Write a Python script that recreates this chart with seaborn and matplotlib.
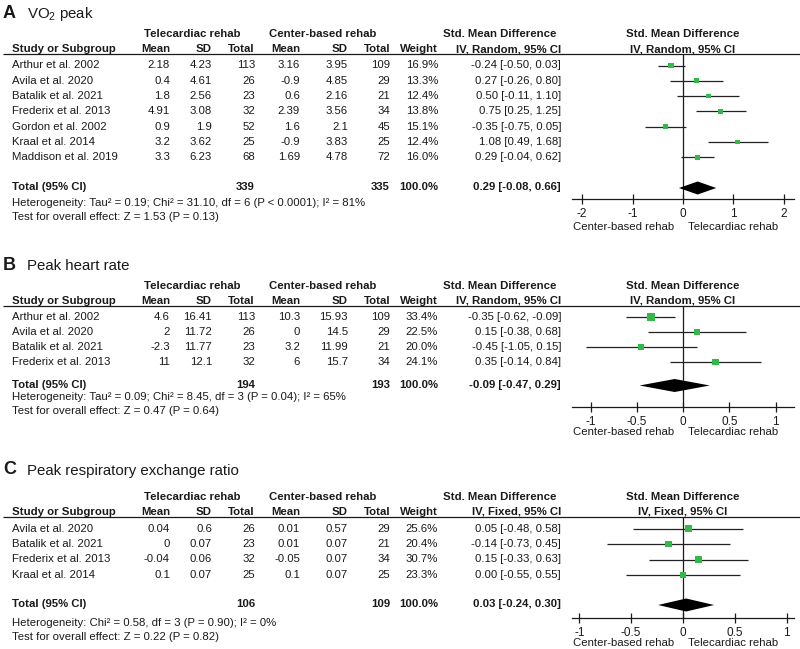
import matplotlib
matplotlib.use("Agg")
import matplotlib.pyplot as plt
import seaborn as sns
import numpy as np

# Panel A: VO2 peak
a_studies = ["Arthur et al. 2002", "Avila et al. 2020", "Batalik et al. 2021", "Frederix et al. 2013",
             "Gordon et al. 2002", "Kraal et al. 2014", "Maddison et al. 2019"]
a_tele_mean = [2.18, 0.4, 1.8, 4.91, 0.9, 3.2, 3.3]
a_tele_sd = [4.23, 4.61, 2.56, 3.08, 1.9, 3.62, 6.23]
a_tele_n = [113, 26, 23, 32, 52, 25, 68]
a_cent_mean = [3.16, -0.9, 0.6, 2.39, 1.6, -0.9, 1.69]
a_cent_sd = [3.95, 4.85, 2.16, 3.56, 2.1, 3.83, 4.78]
a_cent_n = [109, 29, 21, 34, 45, 25, 72]
a_weight = [16.9, 13.3, 12.4, 13.8, 15.1, 12.4, 16.0]
a_smd = [-0.24, 0.27, 0.50, 0.75, -0.35, 1.08, 0.29]
a_lo = [-0.50, -0.26, -0.11, 0.25, -0.75, 0.49, -0.04]
a_hi = [0.03, 0.80, 1.10, 1.25, 0.05, 1.68, 0.62]
a_totals = [339, 335]
a_pooled = [0.29, -0.08, 0.66]
a_het = "Heterogeneity: Tau² = 0.19; Chi² = 31.10, df = 6 (P < 0.0001); I² = 81%"
a_test = "Test for overall effect: Z = 1.53 (P = 0.13)"
a_ticks = [-2, -1, 0, 1, 2]

# Panel B: Peak heart rate
b_studies = ["Arthur et al. 2002", "Avila et al. 2020", "Batalik et al. 2021", "Frederix et al. 2013"]
b_tele_mean = [4.6, 2, -2.3, 11]
b_tele_sd = [16.41, 11.72, 11.77, 12.1]
b_tele_n = [113, 26, 23, 32]
b_cent_mean = [10.3, 0, 3.2, 6]
b_cent_sd = [15.93, 14.5, 11.99, 15.7]
b_cent_n = [109, 29, 21, 34]
b_weight = [33.4, 22.5, 20.0, 24.1]
b_smd = [-0.35, 0.15, -0.45, 0.35]
b_lo = [-0.62, -0.38, -1.05, -0.14]
b_hi = [-0.09, 0.68, 0.15, 0.84]
b_totals = [194, 193]
b_pooled = [-0.09, -0.47, 0.29]
b_het = "Heterogeneity: Tau² = 0.09; Chi² = 8.45, df = 3 (P = 0.04); I² = 65%"
b_test = "Test for overall effect: Z = 0.47 (P = 0.64)"
b_ticks = [-1, -0.5, 0, 0.5, 1]

# Panel C: Peak respiratory exchange ratio
c_studies = ["Avila et al. 2020", "Batalik et al. 2021", "Frederix et al. 2013", "Kraal et al. 2014"]
c_tele_mean = [0.04, 0, -0.04, 0.1]
c_tele_sd = [0.6, 0.07, 0.06, 0.07]
c_tele_n = [26, 23, 32, 25]
c_cent_mean = [0.01, 0.01, -0.05, 0.1]
c_cent_sd = [0.57, 0.07, 0.07, 0.07]
c_cent_n = [29, 21, 34, 25]
c_weight = [25.6, 20.4, 30.7, 23.3]
c_smd = [0.05, -0.14, 0.15, 0.00]
c_lo = [-0.48, -0.73, -0.33, -0.55]
c_hi = [0.58, 0.45, 0.63, 0.55]
c_totals = [106, 109]
c_pooled = [0.03, -0.24, 0.30]
c_het = "Heterogeneity: Chi² = 0.58, df = 3 (P = 0.90); I² = 0%"
c_test = "Test for overall effect: Z = 0.22 (P = 0.82)"
c_ticks = [-1, -0.5, 0, 0.5, 1]

W, H = 800, 649
TXT = "#1a1a1a"
GREEN = "#33b84a"
FS = 8.2

sns.set_theme(style="ticks")
plt.rcParams["font.family"] = ["Liberation Sans", "DejaVu Sans"]
plt.rcParams["mathtext.fontset"] = "custom"
plt.rcParams["mathtext.rm"] = "Liberation Sans"
plt.rcParams["axes.unicode_minus"] = False

fig = plt.figure(figsize=(W / 100, H / 100), dpi=100)
ov = fig.add_axes([0, 0, 1, 1])
ov.set_xlim(0, W)
ov.set_ylim(H, 0)
ov.axis("off")

# right edges of the table columns (pixels)
col_x = [170, 212, 255, 300, 348, 390, 438, 561]
FX0, FX1 = 572, 794


def t(x, y, s, ha="left", bold=False, size=FS):
    ov.text(x, y, s, ha=ha, va="center", fontsize=size, color=TXT,
            fontweight="bold" if bold else "normal")


def panel(letter, title, method, studies, tm, tsd, tn, cm, csd, cn, w, smd, lo, hi,
          totals, pooled, het, test, ticks, lim, lay):
    top, grp_y, hdr_y, line_y, row0, step, tot_y, het_y, test_y, axis_y, dir_y = lay
    rows = [row0 + step * i for i in range(len(studies))]

    t(3, top, letter, bold=True, size=13)
    t(27, top + 1, title, size=10.8)

    t(192, grp_y, "Telecardiac rehab", ha="center", bold=True)
    t(323, grp_y, "Center-based rehab", ha="center", bold=True)
    t(500, grp_y, "Std. Mean Difference", ha="center", bold=True)
    t(683, grp_y, "Std. Mean Difference", ha="center", bold=True)

    t(12, hdr_y, "Study or Subgroup", bold=True)
    for x, s in zip(col_x, ["Mean", "SD", "Total", "Mean", "SD", "Total", "Weight", method]):
        t(x, hdr_y, s, ha="right", bold=True)
    t(683, hdr_y, method, ha="center", bold=True)
    ov.hlines(line_y, 3, W, color=TXT, lw=0.9)

    for i, y in enumerate(rows):
        t(12, y, studies[i])
        vals = [f"{tm[i]:g}", f"{tsd[i]:g}", f"{tn[i]}", f"{cm[i]:g}", f"{csd[i]:g}", f"{cn[i]}",
                f"{w[i]:.1f}%", f"{smd[i]:.2f} [{lo[i]:.2f}, {hi[i]:.2f}]"]
        for x, s in zip(col_x, vals):
            t(x, y, s, ha="right")

    t(12, tot_y, "Total (95% CI)", bold=True)
    t(col_x[2], tot_y, f"{totals[0]}", ha="right", bold=True)
    t(col_x[5], tot_y, f"{totals[1]}", ha="right", bold=True)
    t(col_x[6], tot_y, "100.0%", ha="right", bold=True)
    t(col_x[7], tot_y, f"{pooled[0]:.2f} [{pooled[1]:.2f}, {pooled[2]:.2f}]", ha="right", bold=True)
    t(12, het_y, het)
    t(12, test_y, test)

    # forest plot
    fa = fig.add_axes([FX0 / W, 1 - axis_y / H, (FX1 - FX0) / W, (axis_y - line_y) / H])
    fa.patch.set_alpha(0)
    for s in ["top", "left", "right"]:
        fa.spines[s].set_visible(False)
    fa.spines["bottom"].set_linewidth(0.9)
    fa.spines["bottom"].set_color(TXT)
    fa.axvline(0, color=TXT, lw=0.9, zorder=1)
    fa.hlines(rows, lo, hi, color="#222222", lw=0.9, zorder=2)
    sns.scatterplot(x=smd, y=rows, size=w, sizes=(0, 95), size_norm=(0, 100), marker="s",
                    color=GREEN, linewidth=0, legend=False, ax=fa, zorder=3)
    dy = 6.5
    est, plo, phi = pooled
    fa.fill([plo, est, phi, est], [tot_y + 1, tot_y + 1 - dy, tot_y + 1, tot_y + 1 + dy],
            color="black", lw=0, zorder=4)
    fa.set_xlim(-lim, lim)
    fa.set_ylim(axis_y, line_y)
    fa.set_yticks([])
    fa.set_xticks(ticks)
    fa.set_xticklabels([f"{v:g}" for v in ticks])
    fa.set_xlabel("")
    fa.set_ylabel("")
    fa.tick_params(axis="x", direction="inout", length=7, width=0.9, color=TXT,
                   labelsize=FS + 0.3, labelcolor=TXT, pad=3)

    zero_px = (FX0 + FX1) / 2
    t(zero_px - 9, dir_y, "Center-based rehab", ha="right")
    t(zero_px + 5, dir_y, "Telecardiac rehab", ha="left")


panel("A", r"VO$_\mathregular{2}$ peak", "IV, Random, 95% CI",
      a_studies, a_tele_mean, a_tele_sd, a_tele_n, a_cent_mean, a_cent_sd, a_cent_n,
      a_weight, a_smd, a_lo, a_hi, a_totals, a_pooled, a_het, a_test, a_ticks, 2.2,
      (13, 34, 49.5, 54, 65.5, 15.3, 187, 203, 217, 199, 227))
panel("B", "Peak heart rate", "IV, Random, 95% CI",
      b_studies, b_tele_mean, b_tele_sd, b_tele_n, b_cent_mean, b_cent_sd, b_cent_n,
      b_weight, b_smd, b_lo, b_hi, b_totals, b_pooled, b_het, b_test, b_ticks, 1.2,
      (265, 286, 300.7, 305.7, 317, 15, 384.5, 397.5, 410.5, 406.7, 432))
panel("C", "Peak respiratory exchange ratio", "IV, Fixed, 95% CI",
      c_studies, c_tele_mean, c_tele_sd, c_tele_n, c_cent_mean, c_cent_sd, c_cent_n,
      c_weight, c_smd, c_lo, c_hi, c_totals, c_pooled, c_het, c_test, c_ticks, 1.07,
      (470, 496.7, 511.7, 516.7, 528.5, 15.5, 604, 622.7, 637.3, 617.7, 643.3))

fig.savefig("out.png", dpi=100)
